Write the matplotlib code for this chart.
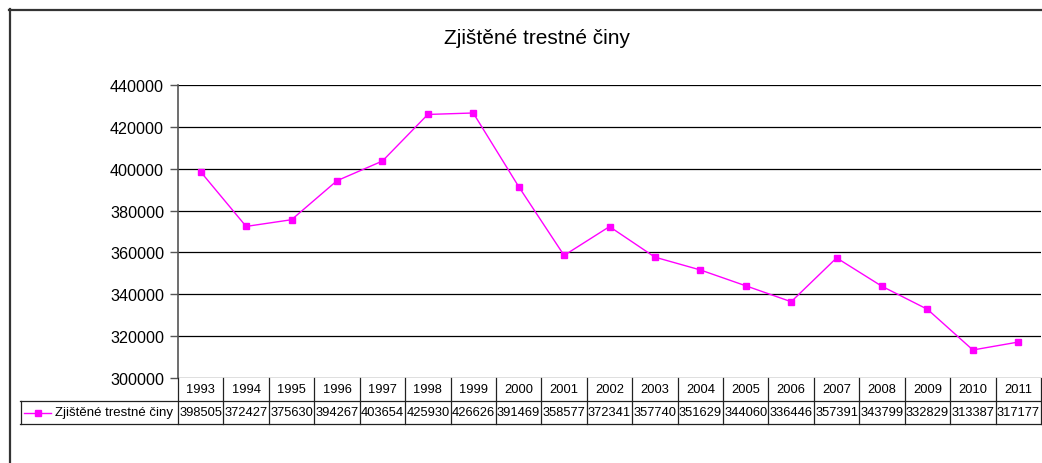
import matplotlib
matplotlib.use("Agg")
import matplotlib.pyplot as plt
from matplotlib.transforms import blended_transform_factory
from matplotlib.lines import Line2D

plt.rcParams['font.family'] = ['Liberation Sans', 'DejaVu Sans']

title = "Zjištěné trestné činy"
series_name = "Zjištěné trestné činy"
years = ["1993", "1994", "1995", "1996", "1997", "1998", "1999", "2000", "2001", "2002",
         "2003", "2004", "2005", "2006", "2007", "2008", "2009", "2010", "2011"]
values = [398505, 372427, 375630, 394267, 403654, 425930, 426626, 391469, 358577, 372341,
          357740, 351629, 344060, 336446, 357391, 343799, 332829, 313387, 317177]
yticks = [300000, 320000, 340000, 360000, 380000, 400000, 420000, 440000]

W, H = 1042, 464
fig = plt.figure(figsize=(W / 100, H / 100), dpi=100)
fig.patch.set_facecolor("white")

def fx(px):
    return px / W

def fy(py):
    return 1 - py / H

# outer chart border (extends beyond the image on right and bottom)
fig.add_artist(Line2D([fx(9), fx(1042)], [fy(10.5), fy(10.5)], color="#333333", lw=1.6))
fig.add_artist(Line2D([fx(9.5), fx(9.5)], [fy(10), fy(464)], color="#333333", lw=1.6))

ax_l, ax_r, ax_t, ax_b = 178, 1041, 86, 379
ax = fig.add_axes([fx(ax_l), fy(ax_b), fx(ax_r - ax_l), (ax_b - ax_t) / H])
x = list(range(len(years)))
ax.plot(x, values, color="#FF00FF", lw=1.0, marker="s", markersize=4.5,
        markerfacecolor="#FF00FF", markeredgecolor="#FF00FF", clip_on=False, zorder=3)
ax.set_xlim(-0.5, len(years) - 0.5)
ax.set_ylim(yticks[0], yticks[-1])
ax.set_yticks(yticks)
ax.set_yticklabels([str(v) for v in yticks], fontsize=11.6)
ax.set_xticks([])
for v in yticks:
    ax.axhline(v, color="black", lw=0.9, zorder=1)
for s in ["top", "right", "bottom"]:
    ax.spines[s].set_visible(False)
ax.spines["left"].set_color("#555555")
ax.spines["left"].set_linewidth(1.2)
ax.tick_params(axis="y", direction="out", length=6, width=1, color="#555555", pad=4)
ax.set_facecolor("none")

fig.text(fx(537), fy(38), title, ha="center", va="center", fontsize=15)

# data table
tr = blended_transform_factory(ax.transData, fig.transFigure)
row1_top, row1_bot, row2_bot = 379, 402, 425
lc = "#222222"
fs_tab = 9.3
fig.add_artist(Line2D([fx(20), fx(ax_r)], [fy(row1_bot), fy(row1_bot)], color=lc, lw=0.9))
fig.add_artist(Line2D([fx(20), fx(ax_r)], [fy(row2_bot), fy(row2_bot)], color=lc, lw=0.9))
fig.add_artist(Line2D([fx(20.5), fx(20.5)], [fy(row1_bot), fy(row2_bot)], color=lc, lw=0.9))
for i in range(len(years) + 1):
    xb = i - 0.5
    ln = Line2D([xb, xb], [fy(row1_top), fy(row2_bot)], color=lc, lw=0.9, transform=tr)
    fig.add_artist(ln)
for i, (yr, v) in enumerate(zip(years, values)):
    fig.text(i, fy((row1_top + row1_bot) / 2), yr, transform=tr, ha="center", va="center", fontsize=fs_tab)
    fig.text(i, fy((row1_bot + row2_bot) / 2), str(v), transform=tr, ha="center", va="center", fontsize=fs_tab)

ymid = fy((row1_bot + row2_bot) / 2)
fig.add_artist(Line2D([fx(24), fx(51)], [ymid, ymid], color="#FF00FF", lw=1.0))
fig.add_artist(Line2D([fx(37.5)], [ymid], color="#FF00FF", marker="s", markersize=4.5, lw=0))
fig.text(fx(55), ymid, series_name, ha="left", va="center", fontsize=9.5)

fig.savefig("out.png", dpi=100, facecolor="white")
